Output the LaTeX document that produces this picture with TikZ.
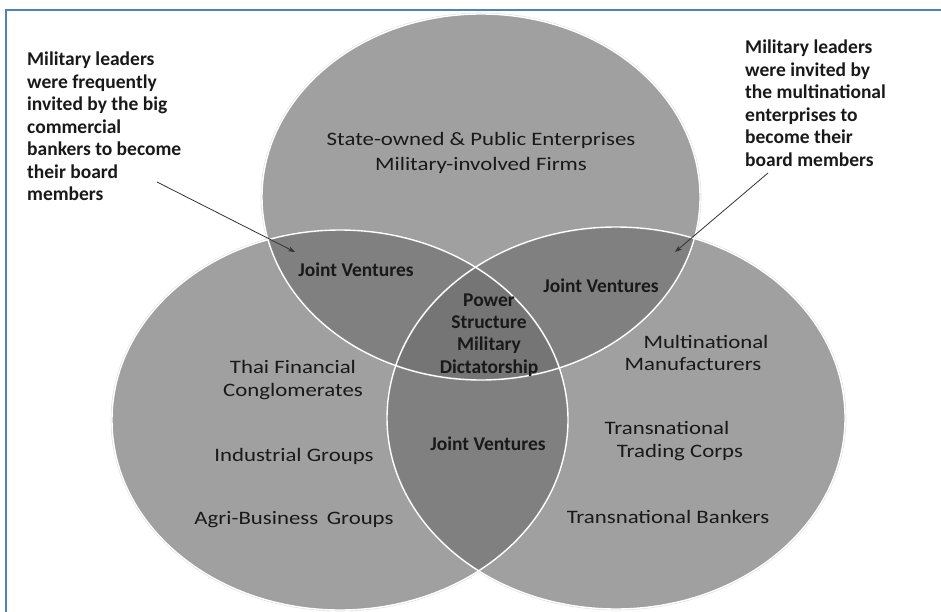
\documentclass[tikz,border=0pt]{standalone}
\usepackage{fontspec}
\setmainfont{Carlito}
\newfontfamily\circfont{Carlito}[FakeStretch=1.2]
\usetikzlibrary{arrows.meta}
\definecolor{framblue}{RGB}{79,129,189}
\definecolor{vennfill}{RGB}{112,112,112}
\definecolor{txt}{RGB}{25,25,25}
\begin{document}
\begin{tikzpicture}[x=1pt,y=-1pt,
  venn/.style={fill=vennfill, fill opacity=0.66},
  vennedge/.style={draw=white, line width=1.4pt},
  vennshade/.style={draw=black!40, line width=2.6pt, draw opacity=0.3},
  boldlab/.style={font=\bfseries\fontsize{19.5}{22.4}\selectfont, text=txt, inner sep=0pt, align=center},
  circlab/.style={font=\circfont\fontsize{19}{23.5}\selectfont, text=txt, inner sep=0pt, align=center},
  note/.style={font=\bfseries\fontsize{19.5}{22.5}\selectfont, text=txt, inner sep=0pt, align=left, anchor=north west},
  callout/.style={draw=black!80, line width=0.8pt, -{Stealth[length=7pt,width=5pt]}}]
\useasboundingbox (0,0) rectangle (941,612);
\fill[white] (0,0) rectangle (941,612);
\draw[framblue, line width=2pt] (6,613) -- (6,10) -- (942,10);
% ellipses
\fill[venn] (481,197) ellipse [x radius=219, y radius=183];
\fill[venn] (616,418) ellipse [x radius=229, y radius=191];
\fill[venn] (340,420) ellipse [x radius=228, y radius=190];
\draw[vennshade] (481,197) ellipse [x radius=219, y radius=183];
\draw[vennshade] (616,418) ellipse [x radius=229, y radius=191];
\draw[vennshade] (340,420) ellipse [x radius=228, y radius=190];
\draw[vennedge] (481,197) ellipse [x radius=219, y radius=183];
\draw[vennedge] (616,418) ellipse [x radius=229, y radius=191];
\draw[vennedge] (340,420) ellipse [x radius=228, y radius=190];
% circle texts
\node[circlab] (soe) at (481,140) {State-owned \& Public Enterprises};
\node[circlab] (mif) at (481,165) {Military-involved Firms};
\node[circlab] (thai) at (293,380) {Thai Financial\\Conglomerates};
\node[circlab] (ind) at (294,456) {Industrial Groups};
\node[circlab] (agri) at (294,520) {Agri-Business\hspace{0.45em}Groups};
\node[circlab] (mult1) at (706,342) {Multinational};
\node[circlab] (mult2) at (693,364) {Manufacturers};
\node[circlab] (tr1) at (667,428) {Transnational};
\node[circlab] (tr2) at (680,453) {Trading Corps};
\node[circlab] (tb) at (668,517) {Transnational Bankers};
% overlap texts
\node[boldlab] (jvl) at (356,270) {Joint Ventures};
\node[boldlab] (jvr) at (601,286) {Joint Ventures};
\node[boldlab] (jvb) at (488,444) {Joint Ventures};
\node[boldlab] (pow) at (489,335) {Power\\Structure\\Military\\Dictatorship};
% notes
\node[note] (noteL) at (27,52) {Military leaders\\were frequently\\invited by the big\\commercial\\bankers to become\\their board\\members};
\node[note] (noteR) at (745,40) {Military leaders\\were invited by\\the multinational\\enterprises to\\become their\\board members};
\coordinate (aL1) at (157,182);
\coordinate (aL2) at (295,252);
\coordinate (aR1) at (768,173);
\coordinate (aR2) at (675,252);
\draw[callout] (aL1) -- (aL2);
\draw[callout] (aR1) -- (aR2);
\end{tikzpicture}
\end{document}
